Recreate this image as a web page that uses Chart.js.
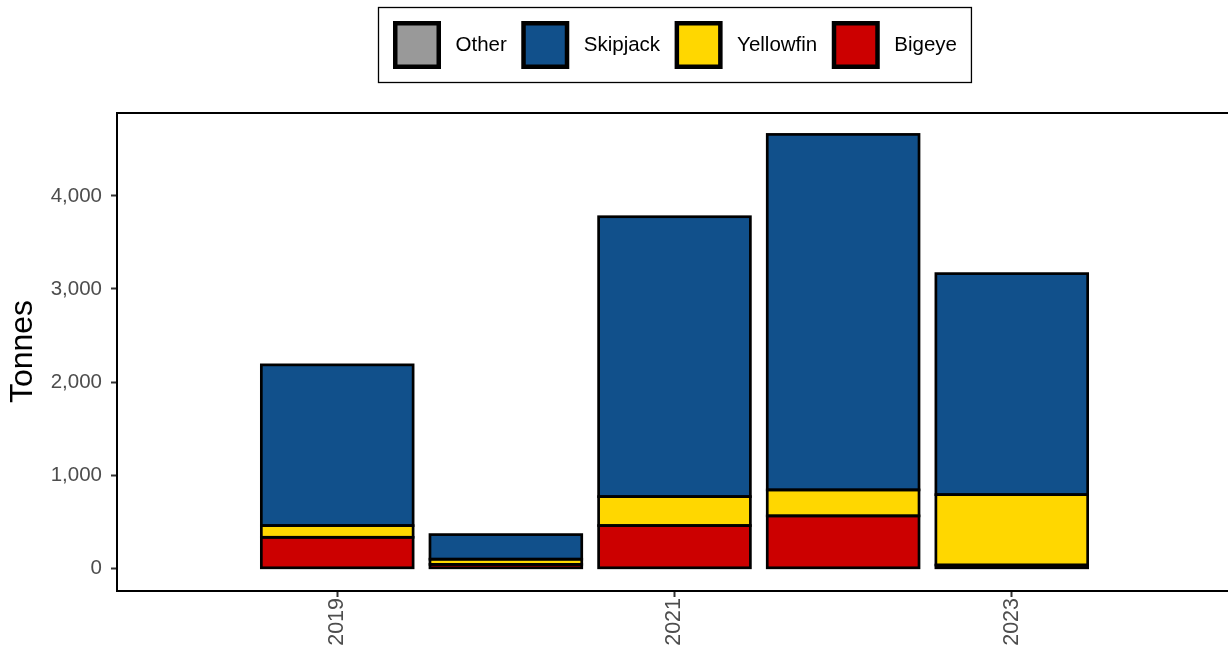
<!DOCTYPE html>
<html>
<head>
<meta charset="utf-8">
<script src="https://cdn.jsdelivr.net/npm/chart.js@4"></script>
<style>
html, body { margin: 0; padding: 0; overflow: hidden; background: #fff; }
</style>
</head>
<body>
<canvas id="catchChart" width="1232" height="654"></canvas>
<script>
const years = [2019, 2020, 2021, 2022, 2023];
const bigeye = [333, 42, 459, 563, 35];
const yellowfin = [126, 56, 311, 279, 756];
const skipjack = [1726, 264, 3006, 3818, 2374];
const other = [0, 0, 0, 0, 0];
const yearTicks = [2019, 2021, 2023];
const tonneTicks = [0, 1000, 2000, 3000, 4000];

const FONT = '"Liberation Sans", Arial, Helvetica, sans-serif';

// ggplot draws the bar outline centred on the edge, so stroke each bar element
const barOutlines = {
    id: 'barOutlines',
    afterDatasetsDraw(chart) {
        const ctx = chart.ctx;
        ctx.save();
        ctx.strokeStyle = '#000';
        ctx.lineWidth = 2.7;
        chart.data.datasets.forEach((d, i) => {
            chart.getDatasetMeta(i).data.forEach(bar => {
                const { x, y, base, width } = bar.getProps(['x', 'y', 'base', 'width'], true);
                if (Math.abs(base - y) < 0.01) return;
                ctx.strokeRect(x - width / 2, Math.min(y, base), width, Math.abs(base - y));
            });
        });
        ctx.restore();
    }
};

// black frame round the plot panel
const panelBorder = {
    id: 'panelBorder',
    afterDatasetsDraw(chart) {
        const { ctx, chartArea: a } = chart;
        ctx.save();
        ctx.strokeStyle = '#000';
        ctx.lineWidth = 2;
        ctx.strokeRect(a.left - 1, a.top, a.right - a.left + 1, a.bottom - a.top + 1);
        ctx.restore();
    }
};

// ggplot style boxed legend on top, keys in reverse stacking order
const boxLegend = {
    id: 'boxLegend',
    afterDraw(chart) {
        const { ctx, chartArea: a } = chart;
        const items = chart.data.datasets.slice().reverse();
        const key = 48, gap = 14.5, pad = 14.5, top = 7, h = 75;
        ctx.save();
        ctx.font = '20.5px ' + FONT;
        let total = pad * 2 - gap;
        items.forEach(d => { total += key + gap + ctx.measureText(d.label).width + gap; });
        const left = Math.round((a.left + a.right) / 2 - total / 2) + 0.5;
        ctx.strokeStyle = '#000';
        ctx.lineWidth = 1.3;
        ctx.strokeRect(left, top + 0.5, total, h);
        const cy = top + h / 2 + 0.5;
        let x = left + pad;
        items.forEach(d => {
            ctx.fillStyle = '#000';
            ctx.fillRect(x, cy - key / 2, key, key);
            ctx.fillStyle = d.backgroundColor;
            ctx.fillRect(x + 4.5, cy - key / 2 + 4.5, key - 9, key - 9);
            x += key + gap;
            ctx.fillStyle = '#000';
            ctx.textBaseline = 'middle';
            ctx.textAlign = 'left';
            ctx.fillText(d.label, x, cy);
            x += ctx.measureText(d.label).width + gap;
        });
        ctx.restore();
    }
};

const barStyle = {
    borderWidth: 0,
    inflateAmount: 0.5,
    barPercentage: 0.9,
    categoryPercentage: 1
};

const datasets = [
    { label: 'Bigeye', data: bigeye, backgroundColor: '#CC0000' },
    { label: 'Yellowfin', data: yellowfin, backgroundColor: '#FFD700' },
    { label: 'Skipjack', data: skipjack, backgroundColor: '#11508B' },
    { label: 'Other', data: other, backgroundColor: '#999999' }
].map(d => Object.assign({}, barStyle, d));

const tickGrid = { display: true, offset: false, drawOnChartArea: false, drawTicks: true, tickLength: 7, tickColor: '#333', tickWidth: 2 };

new Chart(document.getElementById('catchChart').getContext('2d'), {
    type: 'bar',
    data: { labels: years, datasets: datasets },
    options: {
        responsive: false,
        animation: false,
        devicePixelRatio: 1,
        layout: { padding: { top: 113, right: 1, left: 0, bottom: 0 } },
        plugins: {
            legend: { display: false },
            tooltip: { enabled: false }
        },
        scales: {
            x: {
                type: 'linear',
                min: 2017.7,
                max: 2024.3,
                offset: false,
                stacked: true,
                afterBuildTicks: s => { s.ticks = yearTicks.map(v => ({ value: v })); },
                afterFit: s => { s.height = 64; },
                grid: tickGrid,
                border: { display: false },
                ticks: {
                    minRotation: 90,
                    maxRotation: 90,
                    padding: 1,
                    color: '#4d4d4d',
                    font: { size: 21.5, family: FONT },
                    callback: v => String(v)
                }
            },
            y: {
                stacked: true,
                min: -233,
                max: 4890,
                afterBuildTicks: s => { s.ticks = tonneTicks.map(v => ({ value: v })); },
                afterFit: s => { s.width = 118; },
                grid: tickGrid,
                border: { display: false },
                ticks: {
                    padding: 9,
                    color: '#4d4d4d',
                    font: { size: 20.5, family: FONT },
                    callback: v => v.toLocaleString('en-US')
                },
                title: {
                    display: true,
                    text: 'Tonnes',
                    color: '#000',
                    font: { size: 32, family: FONT },
                    padding: { top: 4, bottom: 0 }
                }
            }
        }
    },
    plugins: [barOutlines, panelBorder, boxLegend]
});
</script>
</body>
</html>
